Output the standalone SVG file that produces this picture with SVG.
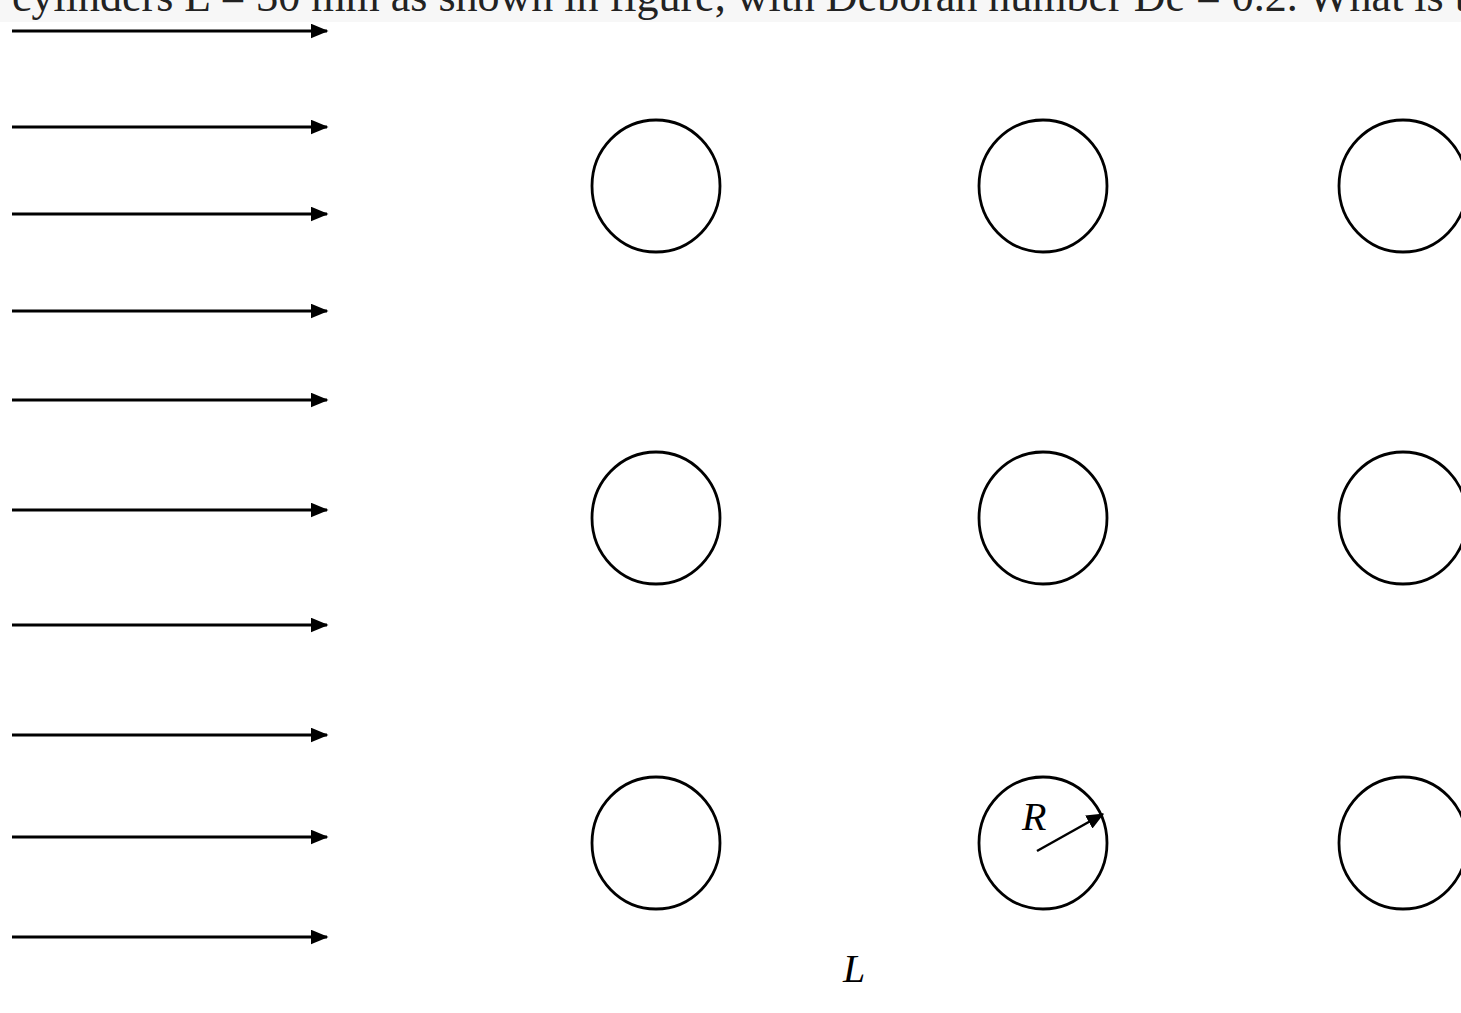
<svg xmlns="http://www.w3.org/2000/svg" width="1461" height="1013" viewBox="0 0 1461 1013">
<style>
.flow{stroke:#000;stroke-width:3;fill:none}
.cyl{stroke:#000;stroke-width:2.8;fill:none}
.lbl{font-family:"Liberation Serif",serif;font-style:italic;fill:#000}
.hdr{font-family:"Liberation Serif",serif;fill:#222;font-size:44px}
</style>
<defs>
<marker id="ah" markerWidth="6" markerHeight="5" refX="5.5" refY="2.5" orient="auto" markerUnits="strokeWidth">
<path d="M0,0 L6,2.5 L0,5 Z" fill="#000"/>
</marker>
<marker id="ah2" markerWidth="7" markerHeight="6" refX="6.5" refY="3" orient="auto" markerUnits="strokeWidth">
<path d="M0,0 L7,3 L0,6 Z" fill="#000"/>
</marker>
</defs>
<rect width="1461" height="1013" fill="#fff"/>
<rect x="0" y="0" width="1461" height="22" fill="#f7f7f7"/>
<text class="hdr" x="12" y="11">cylinders L = 30 mm as shown in figure, with Deborah number De = 0.2. What is the</text>
<g id="connectors">
<line class="flow" x1="12" y1="31" x2="327" y2="31" marker-end="url(#ah)"/>
<line class="flow" x1="12" y1="127" x2="327" y2="127" marker-end="url(#ah)"/>
<line class="flow" x1="12" y1="214" x2="327" y2="214" marker-end="url(#ah)"/>
<line class="flow" x1="12" y1="311" x2="327" y2="311" marker-end="url(#ah)"/>
<line class="flow" x1="12" y1="400" x2="327" y2="400" marker-end="url(#ah)"/>
<line class="flow" x1="12" y1="510" x2="327" y2="510" marker-end="url(#ah)"/>
<line class="flow" x1="12" y1="625" x2="327" y2="625" marker-end="url(#ah)"/>
<line class="flow" x1="12" y1="735" x2="327" y2="735" marker-end="url(#ah)"/>
<line class="flow" x1="12" y1="837" x2="327" y2="837" marker-end="url(#ah)"/>
<line class="flow" x1="12" y1="937" x2="327" y2="937" marker-end="url(#ah)"/>
<line x1="1037" y1="851" x2="1103" y2="814" stroke="#000" stroke-width="2.5" marker-end="url(#ah2)"/>
</g>
<g id="c11"><ellipse class="cyl" cx="656" cy="186" rx="64" ry="66"/></g>
<g id="c12"><ellipse class="cyl" cx="1043" cy="186" rx="64" ry="66"/></g>
<g id="c13"><ellipse class="cyl" cx="1403" cy="186" rx="64" ry="66"/></g>
<g id="c21"><ellipse class="cyl" cx="656" cy="518" rx="64" ry="66"/></g>
<g id="c22"><ellipse class="cyl" cx="1043" cy="518" rx="64" ry="66"/></g>
<g id="c23"><ellipse class="cyl" cx="1403" cy="518" rx="64" ry="66"/></g>
<g id="c31"><ellipse class="cyl" cx="656" cy="843" rx="64" ry="66"/></g>
<g id="c32"><ellipse class="cyl" cx="1043" cy="843" rx="64" ry="66"/>
<text class="lbl" x="1022" y="830" font-size="40">R</text></g>
<g id="c33"><ellipse class="cyl" cx="1403" cy="843" rx="64" ry="66"/></g>
<text class="lbl" x="843" y="982" font-size="40">L</text>
</svg>
